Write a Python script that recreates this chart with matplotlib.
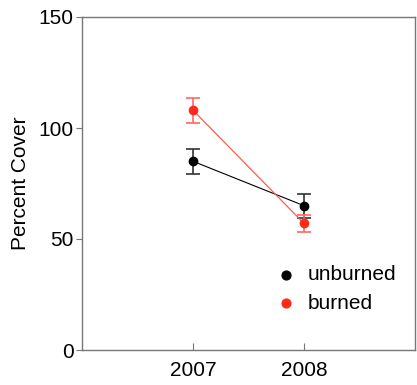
import matplotlib
matplotlib.use("Agg")
import matplotlib.pyplot as plt

plt.rcParams['font.family'] = ['Liberation Sans', 'DejaVu Sans']

years = ["2007", "2008"]
x_pos = [1, 2]
unburned = [85, 65]
unburned_err = [5.5, 5.4]
burned = [108, 57]
burned_err = [5.6, 3.8]

fig = plt.figure(figsize=(4.17, 3.85), dpi=100)
ax = fig.add_axes([82 / 417, 35 / 385, 333 / 417, 333 / 385])

ax.errorbar(x_pos, unburned, yerr=unburned_err, color="black", lw=0.8,
            ecolor="#333333", elinewidth=1.2, capsize=5, capthick=1.2,
            marker="o", ms=6, mec="black", mfc="black", label="unburned")
ax.errorbar(x_pos, burned, yerr=burned_err, color="#ff5a50", lw=0.9,
            ecolor="#ff6a60", elinewidth=1.2, capsize=5, capthick=1.2,
            marker="o", ms=6, mec="#ff2a1a", mfc="#ff2a1a", label="burned")

ax.set_xlim(0, 3)
ax.set_ylim(0, 150)
ax.set_xticks(x_pos)
ax.set_xticklabels(years)
ax.set_yticks([0, 50, 100, 150])
ax.tick_params(axis="x", direction="in", length=5, labelsize=15, colors="#777777",
               labelcolor="black", pad=8)
ax.tick_params(axis="y", direction="out", length=4, labelsize=15, colors="#777777",
               labelcolor="black", pad=2)
for s in ax.spines.values():
    s.set_color("#777777")
    s.set_linewidth(1.0)

ax.set_ylabel("Percent Cover", fontsize=15, labelpad=6)

h1 = ax.scatter([], [], color="black", s=40)
h2 = ax.scatter([], [], color="#ff2a1a", s=40)
ax.legend([h1, h2], ["unburned", "burned"], loc="lower left",
          bbox_to_anchor=(0.54, 0.087), frameon=False, fontsize=15,
          handletextpad=0.3, labelspacing=0.45, handlelength=1.5,
          borderaxespad=0)

plt.savefig("out.png", dpi=100)
